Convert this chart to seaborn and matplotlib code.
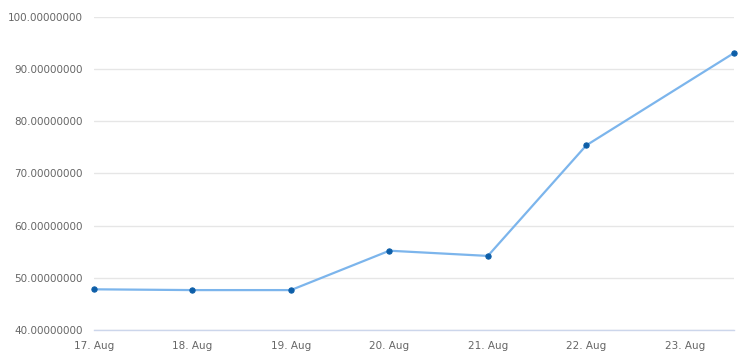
import matplotlib
matplotlib.use("Agg")
import matplotlib.pyplot as plt
import matplotlib.dates as mdates
import matplotlib.ticker as mticker
import seaborn as sns
import pandas as pd

dates = ["2015-08-17 00:00", "2015-08-18 00:00", "2015-08-19 00:00", "2015-08-20 00:00",
         "2015-08-21 00:00", "2015-08-22 00:00", "2015-08-23 12:00"]
values = [47.8, 47.65, 47.65, 55.2, 54.2, 75.4, 93.1]
tick_dates = ["2015-08-17", "2015-08-18", "2015-08-19", "2015-08-20",
              "2015-08-21", "2015-08-22", "2015-08-23"]
y_ticks = [40, 50, 60, 70, 80, 90, 100]

df = pd.DataFrame({"date": pd.to_datetime(dates), "value": values})

sns.set_style("white")
plt.rcParams["font.family"] = ["DejaVu Sans"]

fig = plt.figure(figsize=(7.46, 3.54), dpi=100)
ax = fig.add_axes([94 / 746, 24 / 354, 640 / 746, 313 / 354])

sns.lineplot(data=df, x="date", y="value", ax=ax, color="#7cb5ec", linewidth=1.6,
             marker="o", markersize=3.8, markerfacecolor="#0d5ea8",
             markeredgecolor="#0d5ea8", zorder=3, clip_on=False)

ax.set_xlim(pd.Timestamp("2015-08-17 00:00"), pd.Timestamp("2015-08-23 12:00"))
ax.set_ylim(40, 100)
ax.set_yticks(y_ticks)
ax.yaxis.set_major_formatter(mticker.FuncFormatter(lambda v, p: f"{v:.8f}"))
ax.set_xticks(pd.to_datetime(tick_dates))
ax.xaxis.set_major_formatter(mdates.DateFormatter("%d. %b"))

ax.grid(axis="y", color="#e6e6e6", linewidth=1)
ax.grid(axis="x", visible=False)
ax.set_axisbelow(True)
for s in ["top", "right", "left"]:
    ax.spines[s].set_visible(False)
ax.spines["bottom"].set_color("#ccd6eb")
ax.spines["bottom"].set_linewidth(1)

ax.tick_params(axis="y", length=0, pad=8, labelsize=7.5, labelcolor="#666666")
ax.tick_params(axis="x", length=7, width=1, color="#ccd6eb", pad=1,
               labelsize=7.5, labelcolor="#666666")
ax.set_xlabel("")
ax.set_ylabel("")

fig.savefig("out.png", dpi=100)
